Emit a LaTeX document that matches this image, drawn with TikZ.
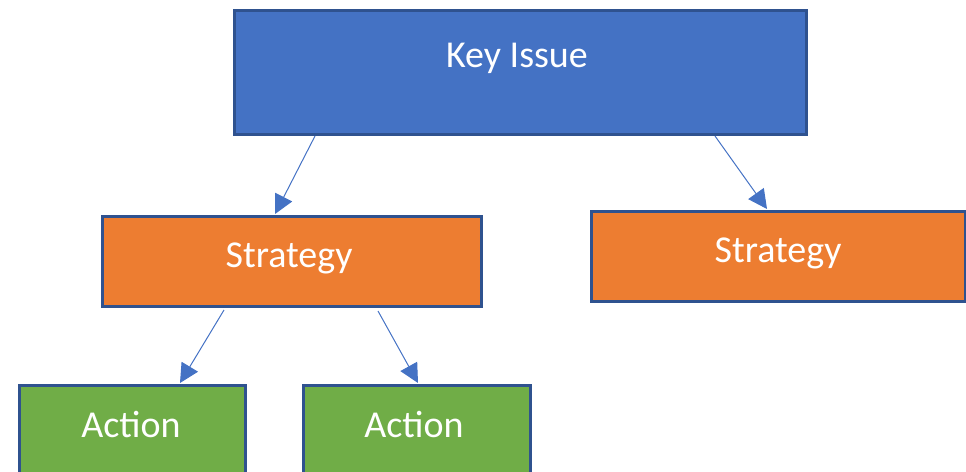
\documentclass[tikz,border=0pt]{standalone}
\usepackage{fontspec}
\setmainfont{Carlito}
\usetikzlibrary{arrows.meta,calc}
\definecolor{kblue}{HTML}{4472C4}
\definecolor{kedge}{HTML}{2F528F}
\definecolor{korange}{HTML}{ED7D31}
\definecolor{kgreen}{HTML}{70AD47}
\tikzset{
  boxbase/.style={rectangle, draw=kedge, line width=3pt, inner sep=0pt, anchor=north west},
  label/.style={text=white, font=\fontsize{38}{40}\selectfont, anchor=base, inner sep=0pt},
  conn/.style={draw=kblue, line width=1pt, -{Triangle[length=19pt,width=19pt]}}
}
\begin{document}
\begin{tikzpicture}[x=1pt,y=-1pt]
\useasboundingbox (0,0) rectangle (966,471);
% boxes
\node[boxbase, fill=kblue, minimum width=572pt, minimum height=124pt] (ki) at (233,9) {};
\node[boxbase, fill=korange, minimum width=379pt, minimum height=90pt] (sl) at (101,215) {};
\node[boxbase, fill=korange, minimum width=374pt, minimum height=90pt] (sr) at (590,210) {};
\node[boxbase, fill=kgreen, minimum width=226pt, minimum height=110pt] (al) at (18,384) {};
\node[boxbase, fill=kgreen, minimum width=227pt, minimum height=110pt] (ar) at (302,384) {};
% texts
\node[label] (tki) at (517,67) {Key Issue};
\node[label] (tsl) at (289,267) {Strategy};
\node[label] (tsr) at (778,262) {Strategy};
\node[label] (tal) at (131,437) {Action};
\node[label] (tar) at (414,437) {Action};
% connectors
\draw[conn] ([xshift=82pt]ki.south west) -- ([xshift=174pt,yshift=1pt]sl.north west);
\draw[conn] ([xshift=482pt]ki.south west) -- ([xshift=177pt,yshift=1pt]sr.north west);
\draw[conn] ([xshift=123pt,yshift=-2pt]sl.south west) -- ([xshift=162pt,yshift=1pt]al.north west);
\draw[conn] ([xshift=277pt,yshift=-3pt]sl.south west) -- ([xshift=116pt,yshift=1pt]ar.north west);
\end{tikzpicture}
\end{document}
